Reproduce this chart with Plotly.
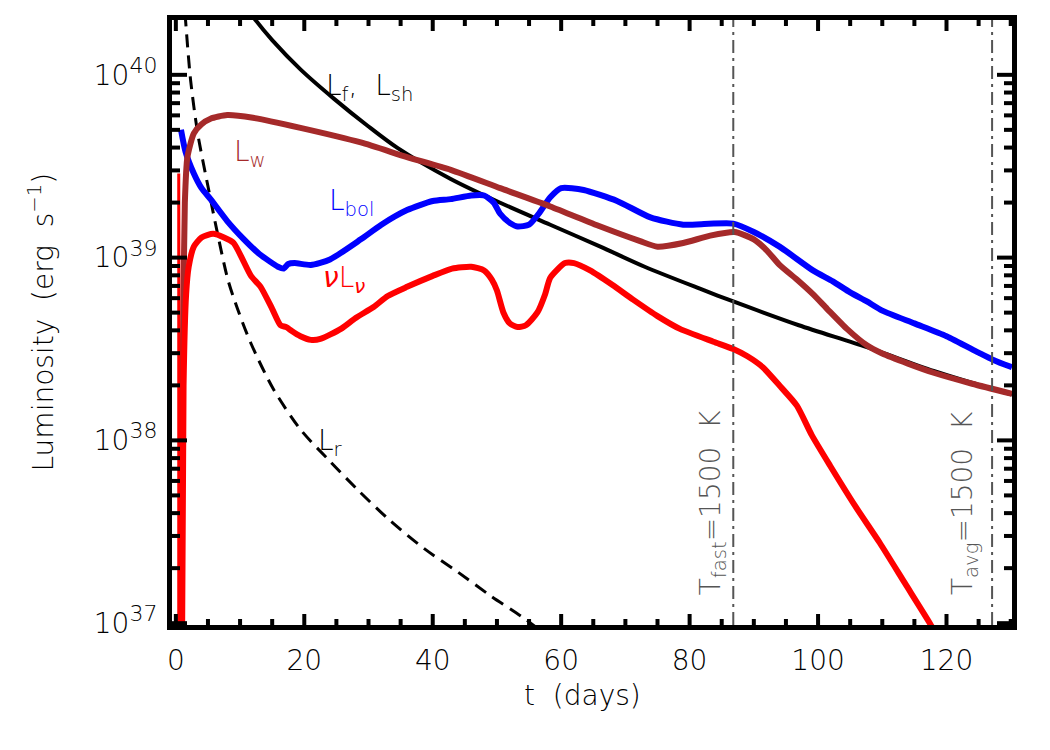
import numpy as np
import plotly.graph_objects as go

# ---- data (log10 of luminosity in erg/s) ----
t_f = [11.8, 12.4, 15, 19.4, 24.6, 29.9, 34.5, 42.8, 50.5, 58.3, 66.1, 73, 81.6, 86.8, 97, 107.6, 118, 130.2]
logL_f = [40.33, 40.30, 40.19, 40.03, 39.87, 39.72, 39.60, 39.43, 39.30, 39.18, 39.06, 38.95, 38.83, 38.76, 38.63, 38.51, 38.38, 38.25]

t_w = [0.8, 1.1, 1.4, 1.8, 2.8, 4.0, 5.4, 8.0, 12, 19.4, 28.8, 36, 42.8, 50.5, 58.3, 66.1, 72.3, 75, 79, 83.2, 87, 90, 92, 94, 96.7, 99.2, 101.4, 104.5, 107.6, 110, 114, 118, 124, 130.2]
logL_w = [36.9, 38.5, 39.3, 39.55, 39.68, 39.73, 39.76, 39.78, 39.765, 39.71, 39.63, 39.55, 39.48, 39.38, 39.28, 39.17, 39.09, 39.06, 39.08, 39.12, 39.14, 39.10, 39.04, 38.96, 38.88, 38.80, 38.72, 38.61, 38.52, 38.475, 38.42, 38.37, 38.31, 38.255]

t_bol = [0.8, 1.5, 2.8, 4, 5.4, 8, 10.6, 13, 15.9, 16.8, 17.5, 18.5, 21, 24, 28.8, 32, 36, 40, 42.8, 46, 48, 49.5, 50.5, 52, 53.2, 55, 56.5, 58.3, 60, 63.5, 68.7, 73.9, 79, 83, 86.8, 90, 94, 99.2, 102.3, 105, 107.6, 110, 115, 120, 125, 127.3, 130.2]
logL_bol = [39.70, 39.58, 39.46, 39.38, 39.32, 39.20, 39.10, 39.02, 38.95, 38.94, 38.965, 38.97, 38.96, 38.99, 39.10, 39.18, 39.26, 39.31, 39.32, 39.34, 39.34, 39.30, 39.24, 39.19, 39.17, 39.18, 39.24, 39.33, 39.38, 39.37, 39.31, 39.22, 39.18, 39.185, 39.186, 39.14, 39.06, 38.93, 38.87, 38.81, 38.76, 38.71, 38.64, 38.57, 38.48, 38.44, 38.40]

t_nu_spike = [0.45, 0.45, 0.6]
logL_nu_spike = [36.8, 39.46, 36.8]
t_nu = [0.95, 1.2, 1.6, 2.0, 2.8, 4.0, 5.8, 7.5, 9, 11.7, 13.2, 15, 16.3, 17.2, 18, 19.4, 21, 22.5, 25.7, 28, 30.8, 33, 36, 40, 43, 46, 48, 49.2, 50, 51, 52, 53.2, 54.5, 56.3, 57.5, 58.3, 60.6, 62, 64.5, 68, 71.2, 75, 78.5, 83.7, 86.8, 89, 91.4, 94, 96.7, 99, 101.9, 105.8, 109.6, 113.5, 117.4, 118.5]
logL_nu = [36.8, 38.3, 38.8, 38.95, 39.06, 39.11, 39.13, 39.11, 39.08, 38.90, 38.84, 38.72, 38.63, 38.62, 38.60, 38.57, 38.55, 38.555, 38.61, 38.67, 38.73, 38.79, 38.84, 38.90, 38.94, 38.95, 38.93, 38.88, 38.82, 38.70, 38.64, 38.62, 38.63, 38.70, 38.80, 38.89, 38.97, 38.97, 38.93, 38.85, 38.77, 38.68, 38.61, 38.54, 38.50, 38.46, 38.40, 38.30, 38.19, 38.03, 37.86, 37.64, 37.44, 37.22, 37.00, 36.93]

t_r = [1.2, 1.55, 2.3, 3.4, 5.0, 6.5, 8.1, 9.6, 11.7, 15.2, 19.4, 23.6, 28.3, 33.4, 38.6, 43.9, 49, 54.1, 56]
logL_r = [40.45, 40.28, 39.97, 39.68, 39.39, 39.13, 38.88, 38.72, 38.53, 38.28, 38.06, 37.90, 37.73, 37.56, 37.41, 37.28, 37.15, 37.03, 36.98]

t_fast = 86.8
t_avg = 127.1

x_ticks = [0, 20, 40, 60, 80, 100, 120]
x_minor = [5, 10, 15, 25, 30, 35, 45, 50, 55, 65, 70, 75, 85, 90, 95, 105, 110, 115, 125, 130]
y_ticks = [1e37, 1e38, 1e39, 1e40]
y_ticktext = ["10<sup><span style='font-size:22px'>%d</span></sup>" % e for e in (37, 38, 39, 40)]
y_minor = [float(m) * 10.0 ** e for e in (37, 38, 39) for m in range(2, 10)]

FONT = "DejaVu Sans"
WEIGHT = 200
BROWN = "#A52A2A"

W, H = 1050, 750
ML, MR, MT, MB = 172, 38, 20, 125
PW, PH = W - ML - MR, H - MT - MB
XR = [-0.6, 130.2]
YR = [36.99, 40.30]


def L(v):
    return [10.0 ** x for x in v]


def f(size, color="black"):
    return dict(family=FONT, size=size, color=color, weight=WEIGHT)


fig = go.Figure()
fig.add_trace(go.Scatter(x=t_r, y=L(logL_r), mode="lines", line_shape="spline",
                         line=dict(color="black", width=3, dash="13px,8px", smoothing=0.8)))
fig.add_trace(go.Scatter(x=t_f, y=L(logL_f), mode="lines", line_shape="spline",
                         line=dict(color="black", width=4, smoothing=0.8)))
fig.add_trace(go.Scatter(x=t_bol, y=L(logL_bol), mode="lines", line_shape="spline",
                         line=dict(color="#0000FF", width=6, smoothing=0.6)))
fig.add_trace(go.Scatter(x=t_w, y=L(logL_w), mode="lines", line_shape="spline",
                         line=dict(color=BROWN, width=6, smoothing=0.6)))
fig.add_trace(go.Scatter(x=t_nu_spike, y=L(logL_nu_spike), mode="lines",
                         line=dict(color="#FF0000", width=3)))
fig.add_trace(go.Scatter(x=t_nu, y=L(logL_nu), mode="lines", line_shape="spline",
                         line=dict(color="#FF0000", width=6, smoothing=0.6)))

# vertical dash-dot markers of T = 1500 K (drawn as traces spanning the y range)
for tv in [t_fast, t_avg]:
    fig.add_trace(go.Scatter(x=[tv, tv], y=[10.0 ** YR[0], 10.0 ** YR[1]], mode="lines",
                             line=dict(color="#555555", width=2, dash="13px,5px,3px,5px")))

# tick marks (inside, on all four sides), drawn as short line segments
x_span = XR[1] - XR[0]
y_span = YR[1] - YR[0]
for vals, ln in ((x_ticks, 11), (x_minor, 6)):
    dy = ln / PH * y_span
    xs, ys = [], []
    for v in vals:
        xs += [v, v, None, v, v, None]
        ys += [10.0 ** YR[0], 10.0 ** (YR[0] + dy), None, 10.0 ** YR[1], 10.0 ** (YR[1] - dy), None]
    fig.add_trace(go.Scatter(x=xs, y=ys, mode="lines", connectgaps=False,
                             line=dict(color="black", width=4)))
for vals, ln in ((y_ticks, 15), (y_minor, 8)):
    dx = ln / PW * x_span
    xs, ys = [], []
    for v in vals:
        xs += [XR[0], XR[0] + dx, None, XR[1], XR[1] - dx, None]
        ys += [v, v, None, v, v, None]
    fig.add_trace(go.Scatter(x=xs, y=ys, mode="lines", connectgaps=False,
                             line=dict(color="black", width=4)))

ann = [
    dict(x=23.0, y=39.93, text="L<sub>f</sub>,  L<sub>sh</sub>", font=f(28), xanchor="left"),
    dict(x=8.8, y=39.57, text="L<sub>w</sub>", font=f(28, BROWN), xanchor="left"),
    dict(x=23.6, y=39.30, text="L<sub>bol</sub>", font=f(28, "#0000FF"), xanchor="left"),
    dict(x=22.6, y=38.88, text="<i>ν</i>L<sub><i>ν</i></sub>", font=f(28, "#FF0000"), xanchor="left"),
    dict(x=21.8, y=37.99, text="L<sub>r</sub>", font=f(28), xanchor="left"),
    dict(x=83.6, y=37.66, text="T<sub>fast</sub>=1500  K", textangle=-90, font=f(28, "#555555")),
    dict(x=122.8, y=37.66, text="T<sub>avg</sub>=1500  K", textangle=-90, font=f(28, "#555555")),
]
for a in ann:
    fig.add_annotation(xref="x", yref="y", showarrow=False, yanchor="middle", **a)

fig.add_annotation(xref="paper", yref="paper", x=(582 - ML) / PW, y=-(695 - (H - MB)) / PH,
                   xanchor="center", yanchor="middle",
                   text="t  (days)", showarrow=False, font=f(28))
fig.add_annotation(xref="paper", yref="paper", x=-(ML - 42) / PW, y=0.5, textangle=-90,
                   xanchor="center", yanchor="middle",
                   text="Luminosity  (erg  s<sup>−1</sup>)", showarrow=False, font=f(28))

common = dict(showline=True, linewidth=5, linecolor="black", mirror=True,
              showgrid=False, zeroline=False, ticks="", tickfont=f(28))

fig.update_layout(
    width=W, height=H, margin=dict(l=ML, r=MR, t=MT, b=MB),
    plot_bgcolor="white", paper_bgcolor="white", showlegend=False,
    font=dict(family=FONT, color="black"),
    xaxis=dict(range=XR, tickmode="array", tickvals=x_ticks, ticklabelstandoff=6, **common),
    yaxis=dict(type="log", range=YR, tickmode="array", tickvals=y_ticks, ticktext=y_ticktext,
               ticklabelstandoff=4, **common),
)

fig.write_html("out.html")
